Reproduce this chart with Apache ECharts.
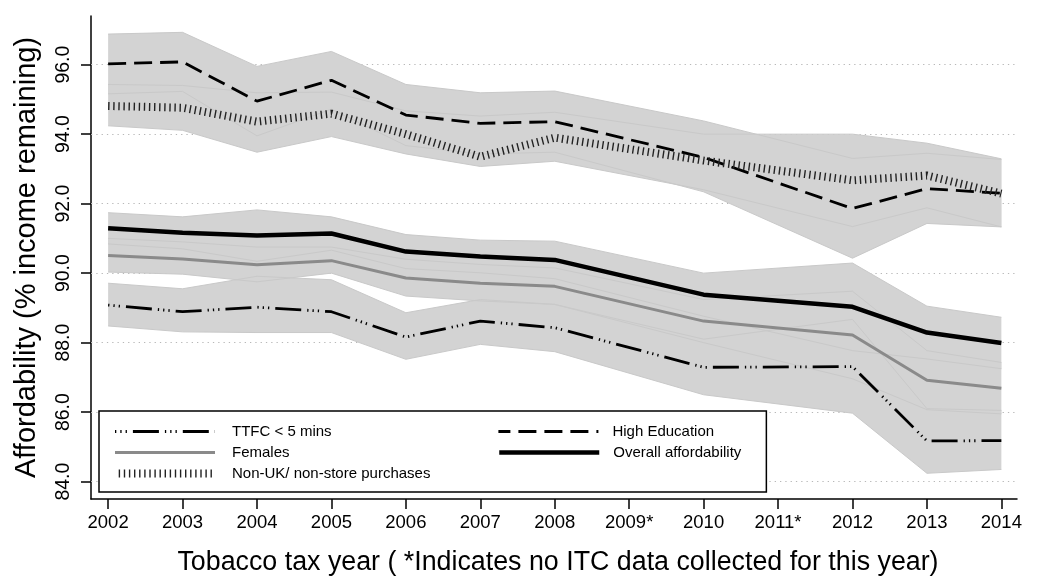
<!DOCTYPE html>
<html>
<head>
<meta charset="utf-8">
<script src="https://cdn.jsdelivr.net/npm/echarts@6/dist/echarts.min.js"></script>
<style>
html,body{margin:0;padding:0;background:#fff;}
#chart{width:1037px;height:581px;}
</style>
</head>
<body>
<div id="chart"></div>
<script>
// ---- data (years with ITC data) ----
var years = [2002, 2003, 2004, 2005, 2006, 2007, 2008, 2010, 2012, 2013, 2014];

var ttfc      = [89.08, 88.89, 89.02, 88.89, 88.16, 88.62, 88.43, 87.29, 87.31, 85.17, 85.18];
var ttfcUpper = [89.71, 89.55, 89.91, 89.81, 88.86, 89.24, 89.10, 88.10, 88.67, 86.10, 86.05];
var ttfcLower = [88.48, 88.31, 88.29, 88.29, 87.52, 87.95, 87.74, 86.50, 85.97, 84.24, 84.35];

var females      = [90.51, 90.41, 90.24, 90.36, 89.86, 89.71, 89.62, 88.62, 88.22, 86.92, 86.69];
var femalesUpper = [91.00, 90.90, 90.75, 90.75, 90.40, 90.25, 90.15, 89.24, 89.48, 87.77, 87.43];
var femalesLower = [90.03, 89.97, 89.75, 90.00, 89.34, 89.20, 89.10, 88.00, 86.96, 86.07, 85.95];

var nonUK      = [94.81, 94.76, 94.36, 94.59, 94.00, 93.35, 93.90, 93.24, 92.67, 92.81, 92.29];
var nonUKUpper = [95.43, 95.40, 95.19, 95.21, 94.67, 94.52, 94.63, 94.00, 94.00, 93.74, 93.29];
var nonUKLower = [94.24, 94.11, 93.48, 93.93, 93.43, 93.07, 93.22, 92.40, 91.34, 91.88, 91.33];

var highEdu      = [96.02, 96.08, 94.95, 95.55, 94.55, 94.31, 94.36, 93.33, 91.86, 92.43, 92.30];
var highEduUpper = [96.88, 96.93, 95.95, 96.38, 95.43, 95.19, 95.24, 94.38, 93.30, 93.45, 93.27];
var highEduLower = [95.16, 95.23, 93.95, 94.72, 93.67, 93.43, 93.48, 92.34, 90.43, 91.43, 91.33];

var overall      = [91.29, 91.16, 91.08, 91.14, 90.62, 90.48, 90.38, 89.38, 89.03, 88.29, 87.99];
var overallUpper = [91.74, 91.62, 91.82, 91.62, 91.11, 90.95, 90.92, 90.00, 90.29, 89.05, 88.73];
var overallLower = [90.84, 90.70, 90.34, 90.66, 90.13, 90.01, 89.84, 88.76, 87.77, 87.53, 87.25];

// ---- axis ticks ----
var xTickValues = [2002, 2003, 2004, 2005, 2006, 2007, 2008, 2009, 2010, 2011, 2012, 2013, 2014];
var xTickLabels = ['2002', '2003', '2004', '2005', '2006', '2007', '2008', '2009*', '2010', '2011*', '2012', '2013', '2014'];
var yTickValues = [84, 86, 88, 90, 92, 94, 96];

var seriesNames = ['TTFC < 5 mins', 'High Education', 'Females', 'Overall affordability', 'Non-UK/ non-store purchases'];

// ---- build ----
var FONT = "'Liberation Sans', Arial, Helvetica, sans-serif";
function pairs(arr) { return years.map(function (y, i) { return [y, arr[i]]; }); }

var bands = [
  { key: 'high', up: highEduUpper, lo: highEduLower },
  { key: 'nonuk', up: nonUKUpper, lo: nonUKLower },
  { key: 'overall', up: overallUpper, lo: overallLower },
  { key: 'females', up: femalesUpper, lo: femalesLower },
  { key: 'ttfc', up: ttfcUpper, lo: ttfcLower }
];

var series = [];
// dotted grid lines
series.push({
  name: 'grid', type: 'line', data: [], silent: true, z: 1,
  markLine: {
    silent: true, symbol: 'none', z: 1, animation: false,
    label: { show: false },
    lineStyle: { type: [1.3, 4], color: '#b8b8b8', width: 1 },
    data: yTickValues.map(function (v) { return { yAxis: v }; })
  }
});
// band fills (polygon through each band's upper and lower bounds)
bands.forEach(function (b) {
  series.push({
    name: 'band-fill-' + b.key, type: 'custom', silent: true, z: 2,
    data: years.map(function (y, i) { return [y, b.lo[i], b.up[i]]; }),
    encode: { x: 0, y: [1, 2] },
    renderItem: function (params, api) {
      if (params.dataIndex !== 0) return null;
      var pts = [];
      for (var i = 0; i < years.length; i++) pts.push(api.coord([years[i], b.up[i]]));
      for (var j = years.length - 1; j >= 0; j--) pts.push(api.coord([years[j], b.lo[j]]));
      return { type: 'polygon', shape: { points: pts }, style: { fill: '#d3d3d3', stroke: null } };
    }
  });
});
// band edges
bands.forEach(function (b) {
  [b.up, b.lo].forEach(function (arr, j) {
    series.push({
      name: 'band-edge-' + b.key + j, type: 'line', data: pairs(arr),
      symbol: 'none', silent: true, z: 3, lineStyle: { width: 1, color: '#c9c9c9' }
    });
  });
});
// main lines
series.push({
  name: seriesNames[2], type: 'line', data: pairs(females), symbol: 'none', z: 4,
  lineStyle: { width: 3, color: '#8a8a8a' }
});
series.push({
  name: seriesNames[3], type: 'line', data: pairs(overall), symbol: 'none', z: 4,
  lineStyle: { width: 4.5, color: '#000' }
});
series.push({
  name: seriesNames[0], type: 'line', data: pairs(ttfc), symbol: 'none', z: 4,
  lineStyle: { width: 2.8, color: '#000', type: [26, 6, 1.3, 4, 1.3, 4, 1.3, 6], dashOffset: 32, cap: 'butt' }
});
series.push({
  name: seriesNames[1], type: 'line', data: pairs(highEdu), symbol: 'none', z: 4,
  lineStyle: { width: 2.8, color: '#000', type: [18, 8], cap: 'butt' }
});
series.push({
  name: seriesNames[4], type: 'line', data: pairs(nonUK), symbol: 'none', z: 4,
  lineStyle: { width: 8, color: '#222', type: [1.4, 3.7], cap: 'butt' }
});

var leftText = { width: 259, padding: [0, 0, 0, 12] };
var rightText = { padding: [0, 0, 0, 9] };

var option = {
  animation: false,
  backgroundColor: '#fff',
  textStyle: { fontFamily: FONT },
  grid: { left: 91, right: 20, top: 16, bottom: 78, containLabel: false },
  legend: {
    left: 99, top: 411, orient: 'horizontal', width: 640,
    padding: [13, 25, 11, 12],
    itemGap: 6, itemWidth: 100, itemHeight: 15,
    backgroundColor: '#fff', borderColor: '#000', borderWidth: 1.5, borderRadius: 0,
    selectedMode: false,
    itemStyle: { opacity: 0, borderWidth: 0 },
    textStyle: { fontSize: 15, color: '#000', fontFamily: FONT, lineHeight: 15 },
    lineStyle: { width: 'inherit', type: 'inherit', cap: 'inherit', dashOffset: 'inherit' },
    data: [
      { name: seriesNames[0], textStyle: leftText },
      { name: seriesNames[1], textStyle: rightText },
      { name: seriesNames[2], textStyle: leftText },
      { name: seriesNames[3], textStyle: rightText },
      { name: seriesNames[4], textStyle: leftText }
    ]
  },
  xAxis: {
    type: 'value', min: 2001.77, max: 2014.21,
    name: 'Tobacco tax year ( *Indicates no ITC data collected for this year)',
    nameLocation: 'middle', nameGap: 50,
    nameTextStyle: { fontSize: 26.8, color: '#000', fontFamily: FONT, padding: [0, 0, 0, 8] },
    axisLine: { show: true, onZero: false, lineStyle: { color: '#000', width: 1.5 } },
    axisTick: { show: true, length: 10, customValues: xTickValues, lineStyle: { color: '#000', width: 1.5 } },
    axisLabel: {
      customValues: xTickValues, margin: 14, fontSize: 18.5, color: '#000', fontFamily: FONT,
      formatter: function (v) { var i = xTickValues.indexOf(Math.round(v)); return i >= 0 ? xTickLabels[i] : ''; }
    },
    splitLine: { show: false }
  },
  yAxis: {
    type: 'value', min: 83.5, max: 97.4,
    name: 'Affordability (% income remaining)',
    nameLocation: 'middle', nameGap: 50, nameRotate: 90,
    nameTextStyle: { fontSize: 29, color: '#000', fontFamily: FONT },
    axisLine: { show: true, onZero: false, lineStyle: { color: '#000', width: 1.5 } },
    axisTick: { show: true, length: 10, customValues: yTickValues, lineStyle: { color: '#000', width: 1.5 } },
    axisLabel: {
      customValues: yTickValues, rotate: 90, margin: 17, fontSize: 19.5, color: '#000', fontFamily: FONT,
      formatter: function (v) { return Number(v).toFixed(1); }
    },
    splitLine: { show: false }
  },
  series: series
};

var chart = echarts.init(document.getElementById('chart'), null, { renderer: 'canvas' });
chart.setOption(option);
</script>
</body>
</html>
